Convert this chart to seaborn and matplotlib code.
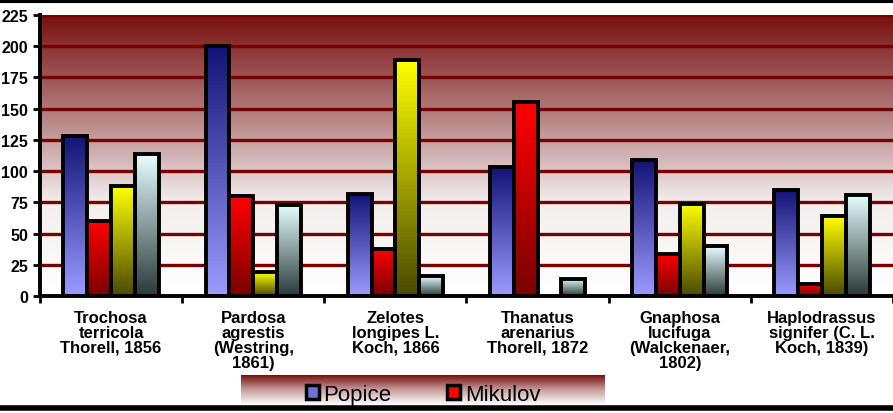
import numpy as np
import pandas as pd
import matplotlib.pyplot as plt
import seaborn as sns
from matplotlib.colors import LinearSegmentedColormap
from matplotlib.patches import Patch

species = ["Trochosa\nterricola\nThorell, 1856", "Pardosa\nagrestis\n(Westring,\n1861)",
           "Zelotes\nlongipes L.\nKoch, 1866", "Thanatus\narenarius\nThorell, 1872",
           "Gnaphosa\nlucifuga\n(Walckenaer,\n1802)", "Haplodrassus\nsignifer (C. L.\nKoch, 1839)"]
popice = [128, 200, 82, 103, 109, 85]
mikulov = [60, 80, 38, 155, 34, 10]
series3 = [88, 19, 189, 0, 74, 64]
series4 = [114, 73, 16, 14, 40, 81]
series_names = ["Popice", "Mikulov", "Series 3", "Series 4"]

# gradient (top colour, bottom colour) per series
grad = [("#141478", "#9a9aff"), ("#ff0000", "#7a0000"), ("#ffff00", "#4a4a00"), ("#e6ffff", "#2a3a3a")]

df = pd.DataFrame({"species": species * 4,
                   "series": np.repeat(series_names, len(species)),
                   "value": popice + mikulov + series3 + series4})

plt.rcParams['font.family'] = ['Liberation Sans', 'DejaVu Sans']
fig = plt.figure(figsize=(8.93, 4.14), dpi=100)
ax = fig.add_axes([40/893, 117/414, 853/893, 281/414])

# background gradient dark red -> white
bg = LinearSegmentedColormap.from_list("bg", ["#ffffff", "#f4eeee", "#b07878", "#7a1010"])
ax.imshow(np.linspace(0, 1, 256).reshape(-1, 1), cmap=bg, origin="lower", aspect="auto",
          extent=[-0.5, 5.5, 0, 225], zorder=0)

sns.barplot(data=df, x="species", y="value", hue="series", ax=ax, width=0.67,
            edgecolor="black", linewidth=2.8, legend=False, zorder=3)

for i, cont in enumerate(ax.containers):
    cmap = LinearSegmentedColormap.from_list("g%d" % i, [grad[i][1], grad[i][0]])
    for p in cont.patches:
        h = p.get_height()
        if h <= 0:
            p.set_visible(False)
            continue
        p.set_facecolor("none")
        x0 = p.get_x()
        im = ax.imshow(np.linspace(0, 1, 64).reshape(-1, 1), cmap=cmap, origin="lower", aspect="auto",
                       extent=[x0, x0 + p.get_width(), 0, h], zorder=2)
        im.set_clip_path(p)

ax.set_xlim(-0.5, 5.5)
ax.set_ylim(0, 225)
ax.set_yticks(range(0, 226, 25))
ax.grid(False)
for y in range(25, 226, 25):
    ax.axhline(y, color="#7a0000", lw=2.4, zorder=1)
ax.tick_params(axis="y", labelsize=11.5, width=2, length=5)
for lab in ax.get_yticklabels():
    lab.set_fontweight("bold")
ax.set_xticks(range(6))
ax.set_xticklabels(species, fontsize=12, fontweight="bold", va="top", linespacing=1.0)
ax.tick_params(axis="x", length=0, pad=10)
ax.set_xticks(np.arange(-0.5, 6, 1), minor=True)
ax.tick_params(axis="x", which="minor", length=5, width=2)
ax.set_xlabel("")
ax.set_ylabel("")
for s in ["top", "right"]:
    ax.spines[s].set_visible(False)
for s in ["left", "bottom"]:
    ax.spines[s].set_linewidth(2.8)

# legend box with gradient
lax = fig.add_axes([241/893, 8/414, 364/893, 30/414])
lbg = LinearSegmentedColormap.from_list("lbg", ["#ffffff", "#c8a0a0", "#7a1010"])
lax.imshow(np.linspace(0, 1, 64).reshape(-1, 1), cmap=lbg, origin="lower", aspect="auto", extent=[0, 1, 0, 1])
lax.set_axis_off()
handles = [Patch(facecolor="#7070d0", edgecolor="black", lw=2.5), Patch(facecolor="#ff0000", edgecolor="black", lw=2.5)]
lax.legend(handles, series_names[:2], loc="center", ncol=2, frameon=False, fontsize=16,
           handlelength=0.6, handleheight=0.6, handletextpad=0.2, columnspacing=2.5,
           bbox_to_anchor=(0.5, 0.35))

fig.add_artist(plt.Line2D([0, 1], [0.995, 0.995], color="black", lw=3))
fig.add_artist(plt.Line2D([0, 1], [0.012, 0.012], color="black", lw=4))
fig.savefig("out.png", dpi=100)
